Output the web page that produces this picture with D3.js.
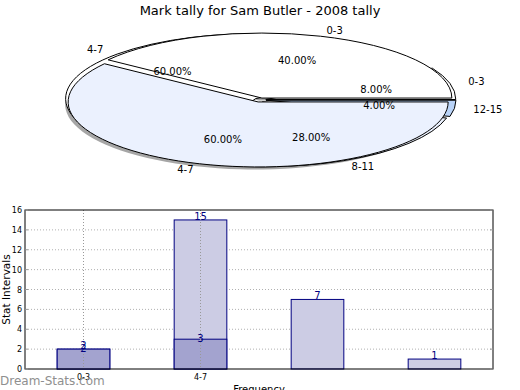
<!DOCTYPE html>
<html>
<head>
<meta charset="utf-8">
<script src="https://cdn.jsdelivr.net/npm/d3@7"></script>
<style>
  body { margin: 0; background: #fff; }
  svg { font-family: "DejaVu Sans", sans-serif; }
</style>
</head>
<body>
<svg id="chart" width="520" height="390"></svg>
<script>
// mark tally data
const categories = ["0-3", "4-7", "8-11", "12-15"];
const tallyA = [2, 3];          // first series (dark bars)
const tallyB = [2, 15, 7, 1];   // second series (light bars)
const xTickLabels = ["0-3", "4-7"];
const yTicks = [0, 2, 4, 6, 8, 10, 12, 14, 16];

const svg = d3.select("#chart");

svg.append("text")
  .attr("x", 260).attr("y", 15)
  .attr("text-anchor", "middle")
  .style("font-size", "13px")
  .text("Mark tally for Sam Butler - 2008 tally");

// ---------- pie (elliptical, exploded, with shadow) ----------
const cx = 260, cy = 100, rx = 190, ry = 65, k = ry / rx, explode = 6;

const arc = d3.arc().innerRadius(0).outerRadius(rx);
const pie = d3.pie().sort(null).value(d => d.v)
  .startAngle(Math.PI / 2)
  .endAngle(Math.PI / 2 - 2 * Math.PI);

function makeArcs(values, labels, colors) {
  const arcs = pie(values.map((v, i) => ({ v, label: labels[i], color: colors[i] })));
  arcs.forEach(d => {
    const mid = (d.startAngle + d.endAngle) / 2;
    d.ux = Math.sin(mid);
    d.uy = -Math.cos(mid);
    d.ox = explode * d.ux;
    d.oy = explode * d.uy * k;
  });
  return { arcs, total: d3.sum(values) };
}

function drawShadow(p) {
  svg.append("g").selectAll("path")
    .data(p.arcs).enter().append("path")
    .attr("transform", d => `translate(${cx + d.ox - 3},${cy + d.oy + 2.5}) scale(1,${k})`)
    .attr("d", arc)
    .attr("fill", "#4d4d4d")
    .attr("opacity", 0.5);
}

function drawWedges(p) {
  svg.append("g").selectAll("path")
    .data(p.arcs).enter().append("path")
    .attr("transform", d => `translate(${cx + d.ox},${cy + d.oy}) scale(1,${k})`)
    .attr("d", arc)
    .attr("fill", d => d.data.color)
    .attr("stroke", "#000")
    .attr("stroke-width", 1)
    .attr("vector-effect", "non-scaling-stroke");

  svg.append("g").selectAll("text")
    .data(p.arcs).enter().append("text")
    .attr("x", d => cx + d.ox + 1.1 * rx * d.ux)
    .attr("y", d => cy + d.oy + 1.1 * ry * d.uy)
    .attr("dy", "0.35em")
    .attr("text-anchor", d => d.ux > 0 ? "start" : "end")
    .style("font-size", "10px")
    .text(d => d.data.label);
}

function drawPct(p) {
  svg.append("g").selectAll("text")
    .data(p.arcs).enter().append("text")
    .attr("x", d => cx + d.ox + 0.6 * rx * d.ux)
    .attr("y", d => cy + d.oy + 0.6 * ry * d.uy)
    .attr("dy", "0.35em")
    .attr("text-anchor", "middle")
    .style("font-size", "10px")
    .text(d => (100 * d.data.v / p.total).toFixed(2) + "%");
}

const pB = makeArcs(tallyB, categories, ["#ffffff", "#ffffff", "#ebf1fe", "#b9d3f8"]);
const pA = makeArcs(tallyA, categories.slice(0, 2), ["#ffffff", "#ebf1fe"]);
drawShadow(pA);
drawWedges(pB);
drawWedges(pA);
drawPct(pB);
drawPct(pA);

// ---------- bar chart ----------
const mLeft = 25, mRight = 493, mTop = 210, mBottom = 369;
const x = d3.scaleBand().domain(categories).range([mLeft, mRight]).paddingInner(0.55).paddingOuter(0.275);
const y = d3.scaleLinear().domain([0, 16]).range([mBottom, mTop]);

const g = svg.append("g");

// grid
g.append("g").selectAll("line")
  .data(yTicks.slice(1, -1)).enter().append("line")
  .attr("x1", mLeft).attr("x2", mRight)
  .attr("y1", d => y(d)).attr("y2", d => y(d))
  .attr("stroke", "#b0b0b0").attr("stroke-dasharray", "1,2");

// light series
g.append("g").selectAll("rect")
  .data(tallyB).enter().append("rect")
  .attr("x", (d, i) => x(categories[i]))
  .attr("width", x.bandwidth())
  .attr("y", d => y(d))
  .attr("height", d => y(0) - y(d))
  .attr("fill", "#cccce4")
  .attr("stroke", "#000080");

// dark series
g.append("g").selectAll("rect")
  .data(tallyA).enter().append("rect")
  .attr("x", (d, i) => x(categories[i]))
  .attr("width", x.bandwidth())
  .attr("y", d => y(d))
  .attr("height", d => y(0) - y(d))
  .attr("fill", "#a3a3cf")
  .attr("stroke", "#000080");

// vertical grid lines drawn over bars
g.append("g").selectAll("line")
  .data(xTickLabels).enter().append("line")
  .attr("x1", d => x(d) + x.bandwidth() / 2).attr("x2", d => x(d) + x.bandwidth() / 2)
  .attr("y1", mTop).attr("y2", mBottom)
  .attr("stroke", "#999").attr("stroke-dasharray", "1,2");

// value labels
g.append("g").selectAll("text")
  .data(tallyB).enter().append("text")
  .attr("x", (d, i) => x(categories[i]) + x.bandwidth() / 2)
  .attr("y", d => y(d))
  .attr("text-anchor", "middle")
  .attr("fill", "#000080")
  .style("font-size", "10px")
  .text(d => d);
g.append("g").selectAll("text")
  .data(tallyA).enter().append("text")
  .attr("x", (d, i) => x(categories[i]) + x.bandwidth() / 2)
  .attr("y", d => y(d) + 3)
  .attr("text-anchor", "middle")
  .attr("fill", "#000080")
  .style("font-size", "10px")
  .text(d => d);

// frame
g.append("rect")
  .attr("x", mLeft).attr("y", mTop)
  .attr("width", mRight - mLeft).attr("height", mBottom - mTop)
  .attr("fill", "none").attr("stroke", "#000");

// y axis
const yAxis = g.append("g")
  .attr("transform", `translate(${mLeft},0)`)
  .call(d3.axisLeft(y).tickValues(yTicks).tickSize(0).tickPadding(3));
yAxis.select(".domain").remove();
yAxis.selectAll("text").style("font-size", "8px").style("font-family", "DejaVu Sans");

// inward ticks on both sides
g.append("g").selectAll("line")
  .data(yTicks).enter().append("line")
  .attr("x1", mLeft).attr("x2", mLeft + 3)
  .attr("y1", d => y(d)).attr("y2", d => y(d))
  .attr("stroke", "#999");
g.append("g").selectAll("line")
  .data(yTicks).enter().append("line")
  .attr("x1", mRight - 3).attr("x2", mRight)
  .attr("y1", d => y(d)).attr("y2", d => y(d))
  .attr("stroke", "#999");

// x tick labels
g.append("g").selectAll("text")
  .data(xTickLabels).enter().append("text")
  .attr("x", d => x(d) + x.bandwidth() / 2)
  .attr("y", mBottom + 11)
  .attr("text-anchor", "middle")
  .style("font-size", "8px")
  .text(d => d);

svg.append("text")
  .attr("transform", `translate(9.5,${(mTop + mBottom) / 2}) rotate(-90)`)
  .attr("text-anchor", "middle")
  .style("font-size", "10.5px")
  .text("Stat Intervals");

svg.append("text")
  .attr("x", 259).attr("y", 393)
  .attr("text-anchor", "middle")
  .style("font-size", "10px")
  .text("Frequency");

// watermark
svg.append("text")
  .attr("x", 0).attr("y", 385)
  .attr("fill", "#8f8f8f")
  .style("font-size", "12px")
  .text("Dream-Stats.com");
</script>
</body>
</html>
